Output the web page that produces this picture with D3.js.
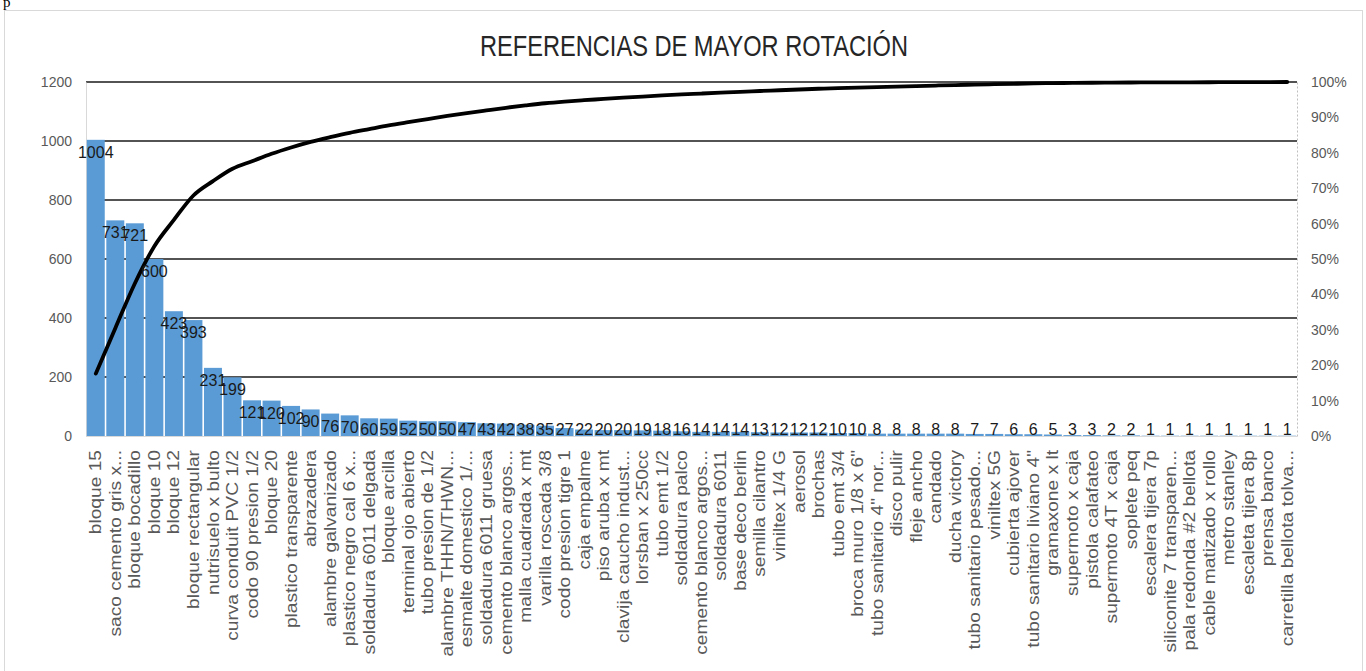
<html>
<head>
<meta charset='UTF-8'>
<script src="https://d3js.org/d3.v7.min.js"></script>
<style>
  body { margin: 0; background: #ffffff; }
  svg { display: block; }
</style>
</head>
<body>
<svg id="chart" width="1366" height="671"></svg>
<script>
// categories in pareto order
const categories = [
  "bloque 15", "saco cemento gris x...", "bloque bocadillo", "bloque 10", "bloque 12",
  "bloque rectangular", "nutrisuelo x bulto", "curva conduit PVC 1/2", "codo 90 presion 1/2", "bloque 20",
  "plastico transparente", "abrazadera", "alambre galvanizado", "plastico negro cal 6 x...", "soldadura 6011 delgada",
  "bloque arcilla", "terminal ojo abierto", "tubo presion de 1/2", "alambre THHN/THWN...", "esmalte domestico 1/...",
  "soldadura 6011 gruesa", "cemento blanco argos...", "malla cuadrada x mt", "varilla roscada 3/8", "codo presion tigre 1",
  "caja empalme", "piso aruba x mt", "clavija caucho indust...", "lorsban x 250cc", "tubo emt 1/2",
  "soldadura palco", "cemento blanco argos... ", "soldadura 6011", "base deco berlin", "semilla cilantro",
  "viniltex 1/4 G", "aerosol", "brochas", "tubo emt 3/4", "broca muro 1/8 x 6\"",
  "tubo sanitario 4\" nor...", "disco pulir", "fleje ancho", "candado", "ducha victory",
  "tubo sanitario pesado...", "viniltex 5G", "cubierta ajover", "tubo sanitario liviano 4\"", "gramaxone x lt",
  "supermoto x caja", "pistola calafateo", "supermoto 4T x caja", "soplete peq", "escalera tijera 7p",
  "siliconite 7 transparen...", "pala redonda #2 bellota", "cable matizado x rollo", "metro stanley", "escaleta tijera 8p",
  "prensa banco", "carretilla bellota tolva..."
];

// units sold per reference
const values = [
  1004, 731, 721, 600, 423, 393, 231, 199, 121, 120,
  102, 90, 76, 70, 60, 59, 52, 50, 50, 47,
  43, 42, 38, 35, 27, 22, 20, 20, 19, 18,
  16, 14, 14, 14, 13, 12, 12, 12, 10, 10,
  8, 8, 8, 8, 8, 7, 7, 6, 6, 5,
  3, 3, 2, 2, 1, 1, 1, 1, 1, 1,
  1, 1
];

const leftTicks = [0, 200, 400, 600, 800, 1000, 1200];
const rightTicks = [0, 0.1, 0.2, 0.3, 0.4, 0.5, 0.6, 0.7, 0.8, 0.9, 1];

const svg = d3.select('svg#chart');
const font = "'Liberation Sans', Arial, sans-serif";

// cumulative share for the pareto line
const total = d3.sum(values);
let run = 0;
const cumulative = values.map(v => { run += v; return run / total; });

const plotLeft = 86, plotRight = 1297, plotTop = 82, plotBottom = 436;

const x = d3.scaleBand().domain(categories).range([plotLeft, plotRight]).paddingInner(0.08).paddingOuter(0.04);
const y = d3.scaleLinear().domain([0, 1200]).range([plotBottom, plotTop]);
const y2 = d3.scaleLinear().domain([0, 1]).range([plotBottom, plotTop]);

// outer chart border
svg.append('rect')
  .attr('x', 4.5).attr('y', 10.5)
  .attr('width', 1358).attr('height', 700)
  .attr('fill', 'none').attr('stroke', '#d9d9d9');

// stray glyph from the page above the chart
svg.append('text')
  .attr('x', 3).attr('y', 7)
  .style('font-family', "'Liberation Serif', serif")
  .style('font-size', '15px')
  .text('p');

// title
svg.append('text')
  .attr('x', 694).attr('y', 56)
  .attr('text-anchor', 'middle')
  .attr('textLength', 428)
  .attr('lengthAdjust', 'spacingAndGlyphs')
  .style('font-family', font)
  .style('font-size', '30px')
  .style('fill', '#262626')
  .text('REFERENCIAS DE MAYOR ROTACIÓN');

// gridlines
svg.append('g')
  .selectAll('line')
  .data(leftTicks.filter(t => t > 0))
  .join('line')
  .attr('x1', plotLeft).attr('x2', plotRight)
  .attr('y1', d => y(d)).attr('y2', d => y(d))
  .attr('stroke', '#1a1a1a')
  .attr('stroke-width', 1.3);

// left axis
const yAxis = svg.append('g')
  .attr('transform', `translate(${plotLeft},0)`)
  .call(d3.axisLeft(y).tickValues(leftTicks).tickFormat(d3.format('d')).tickSize(0).tickPadding(14));
yAxis.select('.domain').attr('stroke', '#d9d9d9');
yAxis.selectAll('text')
  .style('font-family', font).style('font-size', '14px').style('fill', '#595959');

// right axis
const y2Axis = svg.append('g')
  .attr('transform', `translate(${plotRight},0)`)
  .call(d3.axisRight(y2).tickValues(rightTicks).tickFormat(d3.format('.0%')).tickSize(0).tickPadding(14));
y2Axis.select('.domain').attr('stroke', '#bfbfbf').attr('stroke-dasharray', '2,2');
y2Axis.selectAll('text')
  .style('font-family', font).style('font-size', '14px').style('fill', '#595959');

// bars
svg.append('g')
  .selectAll('rect')
  .data(values)
  .join('rect')
  .attr('x', (d, i) => x(categories[i]))
  .attr('y', d => y(d))
  .attr('width', x.bandwidth())
  .attr('height', d => plotBottom - y(d))
  .attr('fill', '#5b9bd5');

// baseline
svg.append('line')
  .attr('x1', plotLeft).attr('x2', plotRight)
  .attr('y1', plotBottom + 0.5).attr('y2', plotBottom + 0.5)
  .attr('stroke', '#d9d9d9');

// category labels
svg.append('g')
  .selectAll('text')
  .data(categories)
  .join('text')
  .attr('transform', d => `translate(${x(d) + x.bandwidth() / 2},450) rotate(-90) scale(1.2,1)`)
  .attr('dy', '0.35em')
  .attr('text-anchor', 'end')
  .style('font-family', font)
  .style('font-size', '16px')
  .style('fill', '#595959')
  .text(d => d.trim());

// pareto line
const line = d3.line()
  .x((d, i) => x(categories[i]) + x.bandwidth() / 2)
  .y(d => y2(d))
  .curve(d3.curveMonotoneX);

svg.append('path')
  .datum(cumulative)
  .attr('d', line)
  .attr('fill', 'none')
  .attr('stroke', '#000000')
  .attr('stroke-width', 3.8)
  .attr('stroke-linecap', 'round');

// data labels
svg.append('g')
  .selectAll('text')
  .data(values)
  .join('text')
  .attr('x', (d, i) => x(categories[i]) + x.bandwidth() / 2)
  .attr('y', d => Math.min(y(d) + 18, plotBottom - 1))
  .attr('text-anchor', 'middle')
  .style('font-family', font)
  .style('font-size', '16px')
  .style('fill', '#1a1a1a')
  .text(d => d);
</script>
</body>
</html>
